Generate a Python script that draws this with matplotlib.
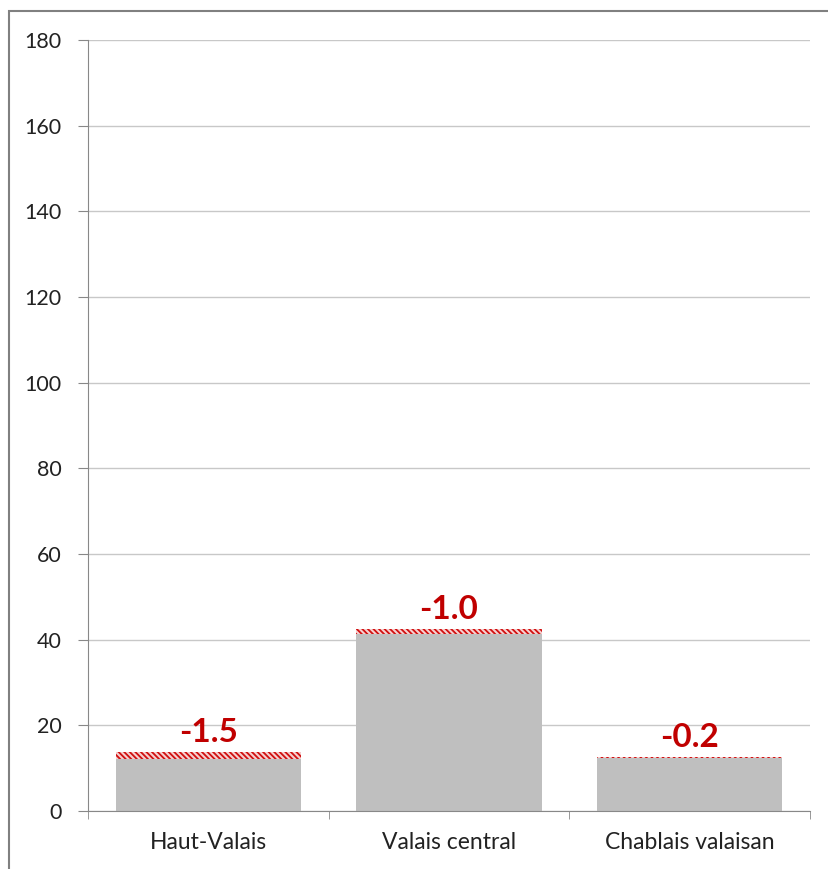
import matplotlib.pyplot as plt
from matplotlib.patches import Rectangle
import numpy as np

regions = ['Haut-Valais', 'Valais central', 'Chablais valaisan']
base = [12.2, 41.4, 12.3]      # remaining level (grey)
decline = [1.5, 1.0, 0.2]      # loss shown as hatched cap
labels = ['-1.5', '-1.0', '-0.2']

plt.rcParams['font.family'] = ['Lato', 'DejaVu Sans']
plt.rcParams['hatch.linewidth'] = 1.3

fig = plt.figure(figsize=(8.29, 8.69), dpi=100)
ax = fig.add_axes([0.106, 0.0667, 0.871, 0.8873])

x = np.arange(len(regions))
ax.bar(x, base, width=0.77, color='#bfbfbf', zorder=2)
ax.bar(x, decline, bottom=base, width=0.77, color='#f6d0d0', edgecolor='#d01010',
       hatch='\\\\\\\\\\\\', linewidth=0, zorder=2)

for xi, b, d, t in zip(x, base, decline, labels):
    ax.annotate(t, (xi, b + d), xytext=(0, 4), textcoords='offset points',
                ha='center', va='bottom', color='#c00000', fontsize=24, fontweight='bold')

ax.set_xlim(-0.5, 2.5)
ax.set_ylim(0, 180)
ax.set_yticks(range(0, 181, 20))
ax.tick_params(axis='y', labelsize=15.5, length=7, color='#888888', pad=12, labelcolor='#222222')
ax.set_xticks(x)
ax.set_xticklabels(regions)
ax.tick_params(axis='x', labelsize=16.5, length=0, pad=15, labelcolor='#222222')
ax.set_xticks([-0.5, 0.5, 1.5, 2.5], minor=True)
ax.tick_params(axis='x', which='minor', length=6, color='#888888')
ax.yaxis.grid(True, color='#c8c8c8', linewidth=1)
ax.set_axisbelow(True)
for s in ['top', 'right']:
    ax.spines[s].set_visible(False)
ax.spines['left'].set_color('#888888')
ax.spines['bottom'].set_color('#888888')

# outer chart frame
fig.patches.append(Rectangle((9 / 829, -0.1), 1.1, 1 - 11 / 869 + 0.1, transform=fig.transFigure,
                             fill=False, edgecolor='#808080', linewidth=1.5))

fig.savefig('out.png', dpi=100)
